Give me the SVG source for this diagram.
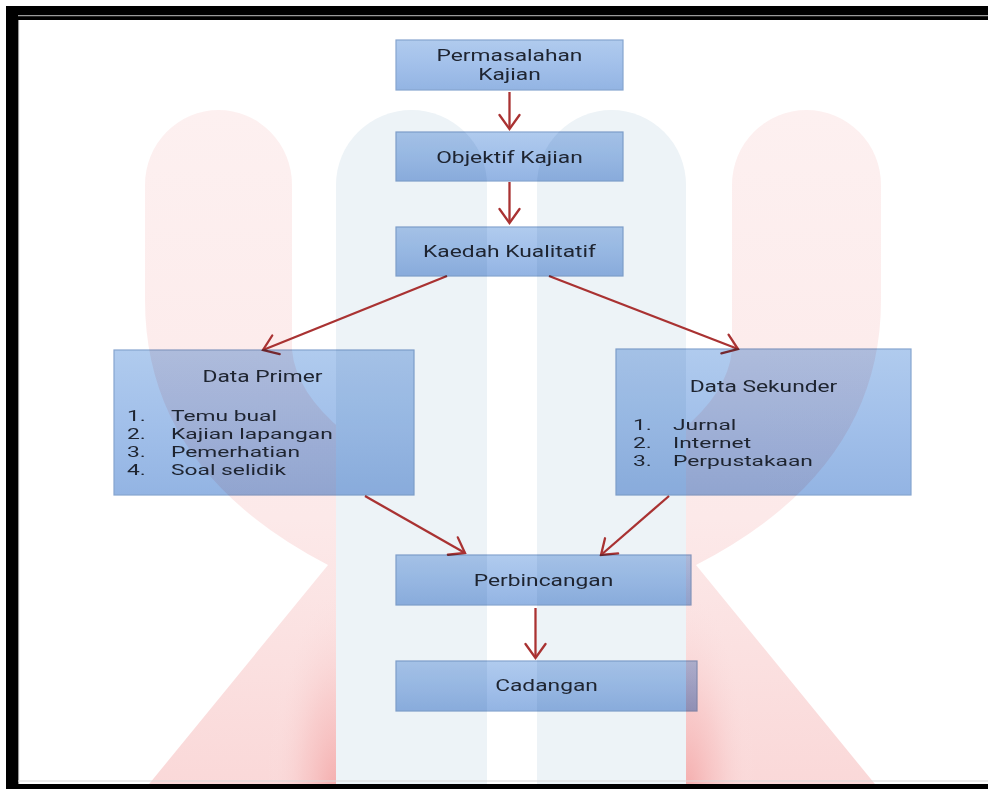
<svg xmlns="http://www.w3.org/2000/svg" width="988" height="789" viewBox="0 0 988 789">
<defs>
<linearGradient id="boxg" x1="0" y1="0" x2="0" y2="1">
<stop offset="0" stop-color="#b0cbee"/>
<stop offset="0.5" stop-color="#a2c0ea"/>
<stop offset="1" stop-color="#93b4e3"/>
</linearGradient>
<linearGradient id="redg" gradientUnits="userSpaceOnUse" x1="0" y1="110" x2="0" y2="789">
<stop offset="0" stop-color="#fdf0f0"/>
<stop offset="0.6" stop-color="#fce9e9"/>
<stop offset="1" stop-color="#fad8d8"/>
</linearGradient>
<radialGradient id="redr">
<stop offset="0" stop-color="#f4a9a9"/>
<stop offset="0.5" stop-color="#f7c4c4" stop-opacity="0.6"/>
<stop offset="1" stop-color="#fbe4e4" stop-opacity="0"/>
</radialGradient>
<marker id="ah" viewBox="-17 -12 19 24" refX="0" refY="0" markerWidth="19" markerHeight="24" markerUnits="userSpaceOnUse" orient="auto">
<path d="M-14,-10 L0,0 L-14,10" fill="none" stroke="#a93232" stroke-width="2.3" stroke-linecap="round"/>
</marker>
<clipPath id="redclip">
<path d="M145,789 L328,565 Q145,470 145,300 L145,185 A73.5,75 0 0 1 292,185 L292,350 Q300,440 512,520 Q724,440 732,350 L732,185 A74.5,75 0 0 1 881,185 L881,300 Q881,470 696,565 L879,789 Z"/>
</clipPath>
<style>
.box{fill:url(#boxg);stroke:#86a5cf;stroke-width:1.2;mix-blend-mode:multiply}
.t{font-family:Roboto,"Liberation Sans",sans-serif;font-size:17px;fill:#1e2430}
.l{font-family:Roboto,"Liberation Sans",sans-serif;font-size:15.2px;fill:#1e2430}
.c{text-anchor:middle}
.conn{stroke:#a93232;stroke-width:2.3;fill:none;marker-end:url(#ah)}
</style>
</defs>
<rect x="0" y="0" width="988" height="789" fill="#ffffff"/>
<g id="watermark">
<path d="M145,789 L328,565 Q145,470 145,300 L145,185 A73.5,75 0 0 1 292,185 L292,350 Q300,440 512,520 Q724,440 732,350 L732,185 A74.5,75 0 0 1 881,185 L881,300 Q881,470 696,565 L879,789 Z" fill="url(#redg)"/>
<g clip-path="url(#redclip)">
<ellipse cx="337" cy="800" rx="70" ry="210" fill="url(#redr)"/>
<ellipse cx="686" cy="800" rx="70" ry="210" fill="url(#redr)"/>
</g>
<path d="M336,789 L336,185 A75.5,75 0 0 1 487,185 L487,789 Z" fill="#edf3f7"/>
<path d="M537,789 L537,185 A74.5,75 0 0 1 686,185 L686,789 Z" fill="#edf3f7"/>
<rect x="487" y="185" width="50" height="604" fill="#ffffff"/>
</g>
<g id="frame">
<rect x="6" y="6" width="982" height="14" fill="#000"/>
<line x1="18" y1="15.6" x2="988" y2="15.6" stroke="#9a9a9a" stroke-width="1.3"/>
<rect x="6" y="6" width="12" height="783" fill="#000"/>
<line x1="18.6" y1="20" x2="18.6" y2="784" stroke="#8a8a8a" stroke-width="1"/>
<line x1="18" y1="781" x2="988" y2="781" stroke="#d8d8d8" stroke-width="1.2"/>
<rect x="6" y="784" width="982" height="5" fill="#000"/>
</g>
<g id="connectors">
<path class="conn" d="M509.5,92 L509.5,129"/>
<path class="conn" d="M509.5,182 L509.5,223"/>
<path class="conn" d="M447,276 L263,350"/>
<path class="conn" d="M549,276 L738,349"/>
<path class="conn" d="M365,496 L465,553"/>
<path class="conn" d="M669,496 L601,555"/>
<path class="conn" d="M535.5,608 L535.5,658"/>
</g>
<g id="permasalahan">
<rect class="box" x="396" y="40" width="227" height="50"/>
<text class="t c" transform="translate(509.5,61.3) scale(1.34,1)">Permasalahan</text>
<text class="t c" transform="translate(509.5,79.7) scale(1.34,1)">Kajian</text>
</g>
<g id="objektif">
<rect class="box" x="396" y="132" width="227" height="49"/>
<text class="t c" transform="translate(509.5,162.7) scale(1.34,1)">Objektif Kajian</text>
</g>
<g id="kaedah">
<rect class="box" x="396" y="227" width="227" height="49"/>
<text class="t c" transform="translate(509.5,256.7) scale(1.34,1)">Kaedah Kualitatif</text>
</g>
<g id="data-primer">
<rect class="box" x="114" y="350" width="300" height="145"/>
<text class="t c" transform="translate(262.5,382) scale(1.34,1)">Data Primer</text>
<text class="l" transform="translate(127,421) scale(1.5,1)">1.</text>
<text class="l" transform="translate(171,421) scale(1.5,1)">Temu bual</text>
<text class="l" transform="translate(127,439) scale(1.5,1)">2.</text>
<text class="l" transform="translate(171,439) scale(1.5,1)">Kajian lapangan</text>
<text class="l" transform="translate(127,457) scale(1.5,1)">3.</text>
<text class="l" transform="translate(171,457) scale(1.5,1)">Pemerhatian</text>
<text class="l" transform="translate(127,475) scale(1.5,1)">4.</text>
<text class="l" transform="translate(171,475) scale(1.5,1)">Soal selidik</text>
</g>
<g id="data-sekunder">
<rect class="box" x="616" y="349" width="295" height="146"/>
<text class="t c" transform="translate(763.5,391.7) scale(1.34,1)">Data Sekunder</text>
<text class="l" transform="translate(633,429.5) scale(1.5,1)">1.</text>
<text class="l" transform="translate(673,429.5) scale(1.5,1)">Jurnal</text>
<text class="l" transform="translate(633,447.7) scale(1.5,1)">2.</text>
<text class="l" transform="translate(673,447.7) scale(1.5,1)">Internet</text>
<text class="l" transform="translate(633,466) scale(1.5,1)">3.</text>
<text class="l" transform="translate(673,466) scale(1.5,1)">Perpustakaan</text>
</g>
<g id="perbincangan">
<rect class="box" x="396" y="555" width="295" height="50"/>
<text class="t c" transform="translate(543.5,585.7) scale(1.34,1)">Perbincangan</text>
</g>
<g id="cadangan">
<rect class="box" x="396" y="661" width="301" height="50"/>
<text class="t c" transform="translate(546.5,690.7) scale(1.34,1)">Cadangan</text>
</g>
</svg>
